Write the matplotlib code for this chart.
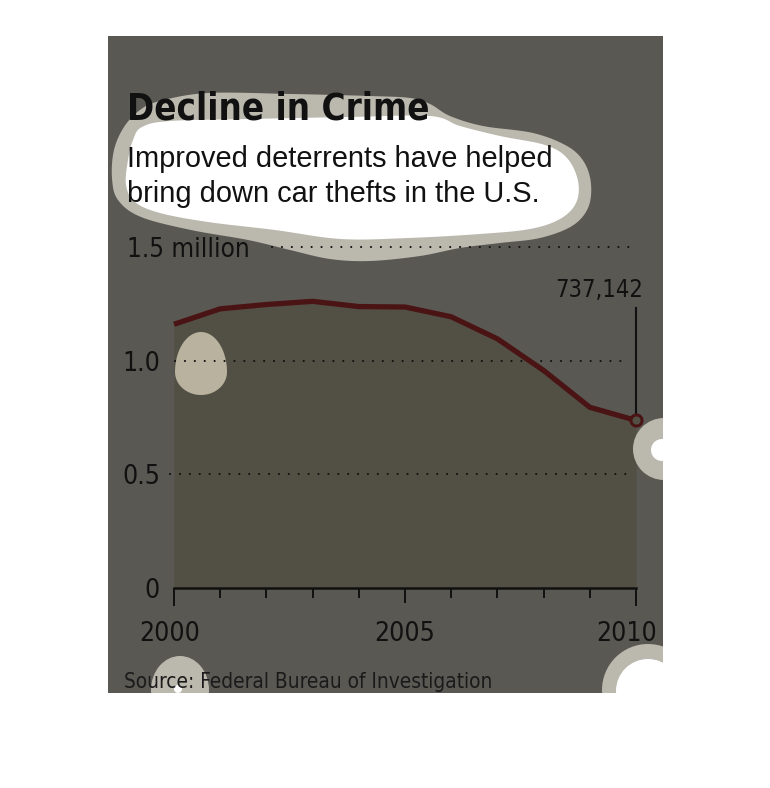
import os
import numpy as np
import matplotlib
matplotlib.use("Agg")
import matplotlib.pyplot as plt
from matplotlib import font_manager as fm
from matplotlib.font_manager import FontProperties
from matplotlib.patches import Rectangle, Polygon, Circle, Ellipse
from matplotlib.transforms import Affine2D, ScaledTranslation

#==========================================================
# DATA  (motor vehicle thefts in the U.S., millions)
#==========================================================
years = [2000, 2001, 2002, 2003, 2004, 2005, 2006, 2007, 2008, 2009, 2010]
thefts = [1.160, 1.228, 1.247, 1.261, 1.238, 1.236, 1.193, 1.096, 0.957, 0.795, 0.737142]
last_label = "737,142"
ytick_vals = [0, 0.5, 1.0]
ytick_labels = ["0", "0.5", "1.0"]
xtick_vals = [2000, 2005, 2010]
xtick_labels = ["2000", "2005", "2010"]

title = "Decline in Crime"
subtitle = ["Improved deterrents have helped", "bring down car thefts in the U.S."]
top_label = "1.5 million"
source = "Source: Federal Bureau of Investigation"

#==========================================================
# STYLE
#==========================================================
W, H = 770, 788
BG = "#595853"
FILL = "#524f45"
LINE = "#4a1414"
BEIGE = "#bbb8ae"
EGG = "#b8b29f"
INK = "#111111"

avail = {f.name for f in fm.fontManager.ttflist}
SANS = "Liberation Sans" if "Liberation Sans" in avail else "DejaVu Sans"


def find_condensed(target_w):
    # look for a condensed / narrow face among the installed fonts
    best, best_score = None, 1e9
    for f in fm.fontManager.ttflist:
        tag = (f.name + " " + os.path.basename(f.fname)).lower()
        narrow = ("condensed" in tag or "narrow" in tag or
                  str(f.stretch) in ("condensed", "semi-condensed", "extra-condensed"))
        if not narrow or f.style != "normal" or "italic" in tag or "oblique" in tag:
            continue
        w = f.weight if isinstance(f.weight, int) else \
            {"bold": 700, "normal": 400, "regular": 400, "book": 400}.get(str(f.weight), 500)
        score = abs(w - target_w) / 100.0
        if "semi" in tag or "extra" in tag or "ultra" in tag:
            score += 1.5
        if "mono" in tag or "serif" in tag and "sans" not in tag:
            score += 5
        if score < best_score:
            best, best_score = f.fname, score
    if best is None or best_score > 1.0:
        return FontProperties(family=SANS, weight="bold" if target_w > 500 else "normal"), False
    return FontProperties(fname=best), True


FT_BOLD, ok_b = find_condensed(700)
FT_REG, ok_r = find_condensed(400)
FT_SUB = FontProperties(family=SANS)


def closed_spline(pts, n=16):
    # Catmull-Rom through the outline points
    p = np.asarray(pts, float)
    k = len(p)
    t = np.linspace(0, 1, n, endpoint=False)[:, None]
    out = []
    for i in range(k):
        p0, p1, p2, p3 = p[i - 1], p[i], p[(i + 1) % k], p[(i + 2) % k]
        out.append(0.5 * (2 * p1 + (-p0 + p2) * t + (2 * p0 - 5 * p1 + 4 * p2 - p3) * t ** 2
                          + (-p0 + 3 * p1 - 3 * p2 + p3) * t ** 3))
    return np.vstack(out)


fig = plt.figure(figsize=(W / 100, H / 100), dpi=100)
fig.patch.set_facecolor("white")
PX = Affine2D().scale(1 / W, -1 / H).translate(0, 1) + fig.transFigure
renderer = fig.canvas.get_renderer()


def fit_width(txt, target):
    # scale font size so the text spans the wanted width in pixels
    for _ in range(2):
        w = txt.get_window_extent(renderer).width
        txt.set_fontsize(txt.get_fontsize() * target / w)


bg = Rectangle((108, 36), 555, 657, transform=PX, facecolor=BG, edgecolor="none", zorder=-1)
fig.add_artist(bg)

# axes: 2000..2010 -> x 174..636 px, 0..1.5 -> y 588..247 px
ax = fig.add_axes([174 / W, 1 - 588 / H, 462 / W, 341 / H])
ax.set_facecolor("none")
ax.set_xlim(2000, 2010)
ax.set_ylim(0, 1.5)

ax.fill_between(years, thefts, 0, color=FILL, lw=0, zorder=1)

#----------------------------------------------------------
# blotches over the graphic
#----------------------------------------------------------
cloud_out = [(112, 178), (114, 150), (124, 127), (140, 110), (160, 101), (208, 93),
             (291, 94), (370, 96), (410, 98), (430, 104), (450, 116), (483, 126),
             (533, 133), (567, 146), (584, 162), (591, 184), (588, 208), (572, 226),
             (540, 238), (500, 243), (460, 248), (420, 256), (370, 261), (330, 259),
             (290, 250), (248, 240), (191, 230), (141, 217), (118, 200)]
cloud_in = [(126, 185), (128, 160), (133, 140), (142, 127), (170, 121), (250, 119),
            (350, 117), (430, 116), (460, 126), (500, 136), (545, 145), (567, 158),
            (578, 181), (576, 203), (560, 219), (530, 229), (480, 234), (408, 238),
            (341, 239), (275, 230), (208, 222), (160, 213), (135, 202)]
blobs = [Polygon(closed_spline(cloud_out), closed=True, facecolor=BEIGE, edgecolor="none"),
         Polygon(closed_spline(cloud_in), closed=True, facecolor="white", edgecolor="none")]
tt = np.linspace(0, 2 * np.pi, 120)
egg = np.column_stack([201 + 26 * np.cos(tt),
                       372 - np.where(np.sin(tt) > 0, 40, 23) * np.sin(tt)])
blobs.append(Polygon(egg, closed=True, facecolor=EGG, edgecolor="none"))
blobs.append(Circle((664, 449), 31, facecolor=BEIGE, edgecolor="none"))
blobs.append(Circle((662, 450), 11, facecolor="white", edgecolor="none"))
blobs.append(Circle((648, 690), 46, facecolor=BEIGE, edgecolor="none"))
blobs.append(Circle((648, 691), 32, facecolor="white", edgecolor="none"))
blobs.append(Ellipse((180, 690), 58, 68, facecolor=BEIGE, edgecolor="none"))
blobs.append(Circle((178, 689), 4, facecolor="white", edgecolor="none"))
for b in blobs:
    b.set_transform(PX)
    b.set_zorder(1.5)
    ax.add_artist(b)
    b.set_clip_path(bg)

#----------------------------------------------------------
# grid, line, annotation
#----------------------------------------------------------
dots = dict(color=INK, lw=1.5, linestyle=(0, (0.05, 4.7)), dash_capstyle="round",
            clip_on=False, zorder=2)
ax.plot([1999.92, 2009.98], [0.5, 0.5], **dots)
ax.plot([2000.02, 2009.68], [1.0, 1.0], **dots)
ax.plot([2002.12, 2009.91], [1.5, 1.5], **dots)

ax.plot(years, thefts, color=LINE, lw=3.8, solid_capstyle="butt", clip_on=False, zorder=3)
ax.plot([years[-1]], [thefts[-1]], "o", ms=8, mfc=FILL, mec=LINE, mew=2.2,
        clip_on=False, zorder=4)
ax.plot([years[-1], years[-1]], [thefts[-1] + 0.028, 1.23], color=INK, lw=1.5,
        clip_on=False, zorder=3)
ann = ax.annotate(last_label, xy=(years[-1], thefts[-1]), xytext=(5, 89),
                  textcoords="offset points", ha="right", va="baseline",
                  fontproperties=FT_REG, fontsize=19, color=INK, annotation_clip=False)

#----------------------------------------------------------
# axes
#----------------------------------------------------------
for s in ["top", "right", "left"]:
    ax.spines[s].set_visible(False)
ax.spines["bottom"].set_linewidth(1.8)
ax.spines["bottom"].set_color(INK)
ax.spines["bottom"].set_zorder(2.5)

tick_size = 19 if ok_r else 18
ax.set_xticks(xtick_vals)
ax.set_xticklabels(xtick_labels, fontproperties=FT_REG, fontsize=tick_size, color=INK)
ax.set_xticks(years, minor=True)
ax.tick_params(axis="x", which="major", length=13, width=1.4, color=INK, pad=11)
ax.tick_params(axis="x", which="minor", length=7, width=1.4, color=INK)
ax.xaxis.get_major_ticks()[1].tick1line.set_markersize(11)
xl = ax.get_xticklabels()
xl[0].set_transform(xl[0].get_transform() + ScaledTranslation(-4 / 100, 0, fig.dpi_scale_trans))
xl[2].set_transform(xl[2].get_transform() + ScaledTranslation(-9 / 100, 0, fig.dpi_scale_trans))

ax.set_yticks(ytick_vals)
ax.set_yticklabels(ytick_labels, fontproperties=FT_REG, fontsize=tick_size, color=INK)
ax.tick_params(axis="y", length=0, pad=10)

#----------------------------------------------------------
# texts
#----------------------------------------------------------
t_title = fig.text(127, 119, title, transform=PX, fontproperties=FT_BOLD, fontsize=30,
                   fontweight="bold", color=INK, va="baseline")
t_sub1 = fig.text(127, 167, subtitle[0], transform=PX, fontproperties=FT_SUB, fontsize=20.5,
                  color=INK, va="baseline")
t_sub2 = fig.text(127, 202, subtitle[1], transform=PX, fontproperties=FT_SUB, fontsize=20.5,
                  color=INK, va="baseline")
t_top = fig.text(127, 257, top_label, transform=PX, fontproperties=FT_REG, fontsize=19,
                 color=INK, va="baseline")
t_src = fig.text(124, 688, source, transform=PX, fontproperties=FT_REG, fontsize=17,
                 color="#1a1a1a", va="baseline")

fit_width(t_title, 303)
fit_width(t_sub1, 426)
t_sub2.set_fontsize(t_sub1.get_fontsize())
fit_width(t_top, 123)
fit_width(t_src, 369)
fit_width(ann, 88)

fig.savefig("out.png", dpi=100, facecolor="white")
